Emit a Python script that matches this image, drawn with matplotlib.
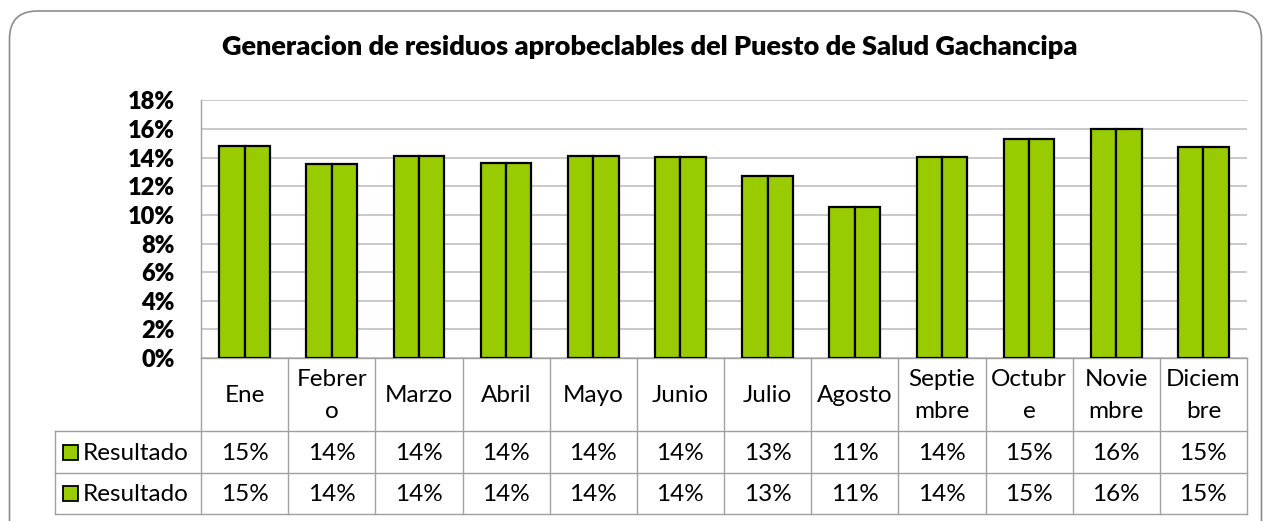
import matplotlib
matplotlib.use("Agg")
import matplotlib.pyplot as plt
from matplotlib.patches import FancyBboxPatch, Rectangle
from matplotlib.ticker import PercentFormatter
import numpy as np

# ---- data ----
months = ["Ene", "Febrero", "Marzo", "Abril", "Mayo", "Junio", "Julio",
          "Agosto", "Septiembre", "Octubre", "Noviembre", "Diciembre"]
month_labels = ["Ene", "Febrer\no", "Marzo", "Abril", "Mayo", "Junio", "Julio",
                "Agosto", "Septie\nmbre", "Octubr\ne", "Novie\nmbre", "Diciem\nbre"]
resultado_1 = [0.1483, 0.1359, 0.1410, 0.1364, 0.1415, 0.1408, 0.1275,
               0.1058, 0.1406, 0.1529, 0.1599, 0.1473]
resultado_2 = [0.1483, 0.1359, 0.1410, 0.1364, 0.1415, 0.1408, 0.1275,
               0.1058, 0.1406, 0.1529, 0.1599, 0.1473]
series_names = ["Resultado", "Resultado"]
y_ticks = [0, 0.02, 0.04, 0.06, 0.08, 0.10, 0.12, 0.14, 0.16, 0.18]
title = "Generacion de residuos aprobeclables del Puesto de Salud Gachancipa"

# ---- style ----
W, H = 1263, 521
FONT = "Lato"
GREEN = "#99CC00"
GRID = "#c0c0c0"
TBL = "#a0a0a0"
FS = 17.5

fig = plt.figure(figsize=(W / 100, H / 100), dpi=100)
fig.patch.set_facecolor("white")

# plot area in pixel coordinates
px_l, px_r, px_t, px_b = 201, 1247, 100.5, 358
ax = fig.add_axes([px_l / W, 1 - px_b / H, (px_r - px_l) / W, (px_b - px_t) / H])
x = np.arange(len(months))
bw = 0.29
ax.bar(x - bw / 2, resultado_1, width=bw, color=GREEN, edgecolor="black", linewidth=1.6, zorder=3)
ax.bar(x + bw / 2, resultado_2, width=bw, color=GREEN, edgecolor="black", linewidth=1.6, zorder=3)
ax.set_xlim(-0.5, len(months) - 0.5)
ax.set_ylim(0, 0.18)
ax.set_yticks(y_ticks)
ax.yaxis.set_major_formatter(PercentFormatter(1.0, decimals=0))
ax.tick_params(axis="y", length=0, pad=19)
for lab in ax.get_yticklabels():
    lab.set_fontfamily(FONT)
    lab.set_fontweight("heavy")
    lab.set_fontsize(17)
ax.set_xticks([])
ax.grid(axis="y", color=GRID, linewidth=1.2, zorder=0)
for s in ["top", "right"]:
    ax.spines[s].set_visible(False)
ax.spines["left"].set_color(TBL)
ax.spines["bottom"].set_color(TBL)
ax.spines["left"].set_linewidth(1)
ax.spines["bottom"].set_linewidth(1)

# overlay axes in pixel coordinates for table and frame
ov = fig.add_axes([0, 0, 1, 1], zorder=5)
ov.set_xlim(0, W)
ov.set_ylim(H, 0)
ov.axis("off")
ov.patch.set_alpha(0)

frame = FancyBboxPatch((9.5, 11), W - 11, 540, boxstyle="round,pad=0,rounding_size=28",
                       fill=False, edgecolor="#8c8c8c", linewidth=1.2, clip_on=False)
ov.add_patch(frame)

ov.text(650, 47, title, ha="center", va="center", fontsize=19.5,
        fontweight="heavy", family=FONT)

# table
tbl_left = 55
col_w = (px_r - px_l) / len(months)
row_head_b = 431
row1_b = 473
row2_b = 514
for k in range(len(months) + 1):
    xx = px_l + k * col_w
    ov.plot([xx, xx], [px_b, row2_b], color=TBL, lw=1)
ov.plot([tbl_left, tbl_left], [row_head_b, row2_b], color=TBL, lw=1)
for yy in [row_head_b, row1_b, row2_b]:
    ov.plot([tbl_left, px_r], [yy, yy], color=TBL, lw=1)

for k, lab in enumerate(month_labels):
    cx = px_l + (k + 0.5) * col_w
    ov.text(cx, (px_b + row_head_b) / 2 + 1, lab, ha="center", va="center",
            fontsize=FS, family=FONT, linespacing=1.6)

for r, (name, vals) in enumerate(zip(series_names, [resultado_1, resultado_2])):
    top = row_head_b if r == 0 else row1_b
    bot = row1_b if r == 0 else row2_b
    cy = (top + bot) / 2
    ov.add_patch(Rectangle((63, cy - 7.5), 15, 15, facecolor=GREEN, edgecolor="black", lw=1.3))
    ov.text(83, cy + 1, name, ha="left", va="center", fontsize=FS, family=FONT)
    for k, v in enumerate(vals):
        cx = px_l + (k + 0.5) * col_w
        ov.text(cx, cy + 1, f"{v * 100:.0f}%", ha="center", va="center",
                fontsize=FS, family=FONT)

fig.savefig("out.png", dpi=100)
